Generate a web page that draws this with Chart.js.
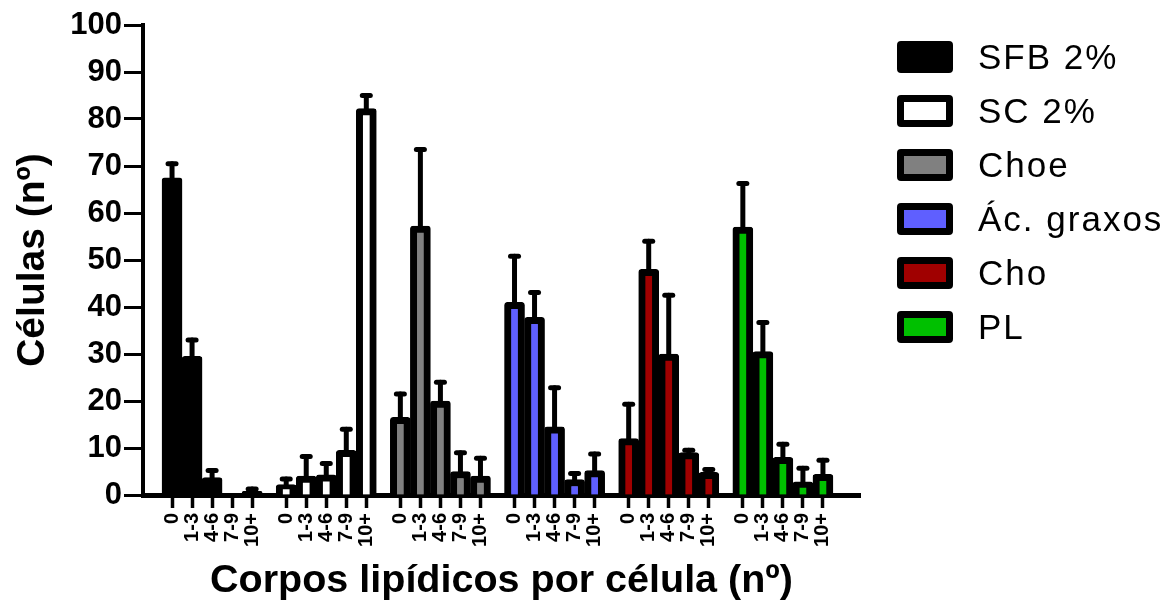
<!DOCTYPE html>
<html>
<head>
<meta charset="utf-8">
<script src="https://cdn.jsdelivr.net/npm/chart.js@4.4.0/dist/chart.umd.min.js"></script>
<style>
  html, body { margin: 0; padding: 0; background: #fff; }
  #wrap { position: relative; width: 1176px; height: 608px; }
  #legend { position: absolute; left: 897px; top: 30px; font-family: "Liberation Sans", Arial, sans-serif; font-size: 35px; letter-spacing: 2px; color: #000; }
  .item { display: flex; align-items: center; height: 54px; }
  .box { width: 56px; height: 32px; box-sizing: border-box; border: 7px solid #000; border-radius: 4px; margin-right: 25px; }
</style>
</head>
<body>
<div id="wrap">
  <canvas id="chart" width="1176" height="608"></canvas>
  <div id="legend"></div>
</div>
<script>
const binLabels = ["0", "1-3", "4-6", "7-9", "10+"];
const seriesNames = ["SFB 2%", "SC 2%", "Choe", "Ác. graxos", "Cho", "PL"];
const seriesColors = ["#000000", "#ffffff", "#808080", "#5f5fff", "#a00000", "#00c000"];

// mean values per bin, and upper error (SD) per bin
const sfbValues = [67.5, 29.5, 3.7, 0, 0.8];
const sfbErrors = [3, 3.5, 1.5, 0, 0.5];
const scValues = [2.2, 4, 4.3, 9.5, 82.2];
const scErrors = [1.2, 4.2, 2.4, 4.5, 2.8];
const choeValues = [16.5, 57.2, 20, 5, 4];
const choeErrors = [5, 16.3, 4, 4, 3.8];
const acidosValues = [41, 37.8, 14.5, 3.3, 5.2];
const acidosErrors = [9.8, 5.3, 8.3, 1.3, 3.5];
const choValues = [12, 48, 30, 9, 4.8];
const choErrors = [7.3, 6, 12.5, 0.5, 0.6];
const plValues = [57, 30.5, 8, 2.8, 4.4];
const plErrors = [9.3, 6.2, 2.8, 2.9, 3];

const yTicks = [0, 10, 20, 30, 40, 50, 60, 70, 80, 90, 100];

const allValues = [sfbValues, scValues, choeValues, acidosValues, choValues, plValues];
const allErrors = [sfbErrors, scErrors, choeErrors, acidosErrors, choErrors, plErrors];

// each group of bars sits on its own stretch of a linear x axis
const groupGap = 1.7;
const groupStep = binLabels.length - 1 + groupGap;
const xPos = (g, i) => g * groupStep + i;
const tickPositions = [];
seriesNames.forEach((_, g) => binLabels.forEach((_, i) => tickPositions.push(xPos(g, i))));

const datasets = seriesNames.map((name, g) => ({
  label: name,
  data: binLabels.map((_, i) => ({ x: xPos(g, i), y: allValues[g][i] })),
  errors: allErrors[g],
  backgroundColor: seriesColors[g],
  borderColor: "#000",
  borderWidth: 7,
  borderRadius: 3,
  grouped: false,
  barPercentage: 1,
  categoryPercentage: 1
}));

const errorBarPlugin = {
  id: "errorBars",
  afterDatasetsDraw(chart) {
    const ctx = chart.ctx;
    const yScale = chart.scales.y;
    ctx.save();
    ctx.strokeStyle = "#000";
    ctx.lineCap = "round";
    ctx.lineWidth = 5;
    chart.data.datasets.forEach((ds, d) => {
      chart.getDatasetMeta(d).data.forEach((bar, i) => {
        const sd = ds.errors[i];
        if (!sd) return;
        const top = yScale.getPixelForValue(ds.data[i].y + sd);
        ctx.beginPath();
        ctx.moveTo(bar.x, bar.y);
        ctx.lineTo(bar.x, top);
        ctx.stroke();
        ctx.beginPath();
        ctx.moveTo(bar.x - 4, top);
        ctx.lineTo(bar.x + 4, top);
        ctx.stroke();
      });
    });
    ctx.restore();
  }
};

const boldFont = "'Liberation Sans', Arial, sans-serif";

new Chart(document.getElementById("chart"), {
  type: "bar",
  data: { datasets },
  plugins: [errorBarPlugin],
  options: {
    responsive: false,
    animation: false,
    layout: { padding: { left: 0, right: 316, top: 25, bottom: 0 } },
    plugins: { legend: { display: false }, tooltip: { enabled: false } },
    scales: {
      x: {
        type: "linear",
        min: -1.45,
        max: 34.35,
        offset: false,
        afterBuildTicks: axis => { axis.ticks = tickPositions.map(v => ({ value: v })); },
        afterFit: axis => { axis.height = 113; },
        border: { display: true, color: "#000", width: 5 },
        grid: { display: true, offset: false, drawOnChartArea: false, drawTicks: true, tickLength: 13, tickWidth: 3.5, tickColor: "#000" },
        ticks: {
          autoSkip: false, maxRotation: 90, minRotation: 90, padding: 5, color: "#000",
          font: { family: boldFont, size: 20, weight: "bold" },
          callback: (v, i) => binLabels[i % binLabels.length]
        },
        title: {
          display: true, text: "Corpos lipídicos por célula (nº)", color: "#000",
          font: { family: boldFont, size: 39.5, weight: "bold" },
          padding: { top: 0, bottom: 3 }
        }
      },
      y: {
        min: 0,
        max: 100,
        afterBuildTicks: axis => { axis.ticks = yTicks.map(v => ({ value: v })); },
        afterFit: axis => { axis.width = 143; },
        border: { display: true, color: "#000", width: 4 },
        grid: { display: true, drawOnChartArea: false, drawTicks: true, tickLength: 19, tickWidth: 3, tickColor: "#000" },
        ticks: {
          padding: 2, color: "#000",
          font: { family: boldFont, size: 31, weight: "bold" }
        },
        title: {
          display: true, text: "Células (nº)", color: "#000",
          font: { family: boldFont, size: 39, weight: "bold" },
          padding: { top: 10, bottom: 0 }
        }
      }
    }
  }
});

const legend = document.getElementById("legend");
seriesNames.forEach((name, g) => {
  const item = document.createElement("div");
  item.className = "item";
  const box = document.createElement("div");
  box.className = "box";
  box.style.background = seriesColors[g];
  const text = document.createElement("span");
  text.innerText = name;
  item.appendChild(box);
  item.appendChild(text);
  legend.appendChild(item);
});
</script>
</body>
</html>
